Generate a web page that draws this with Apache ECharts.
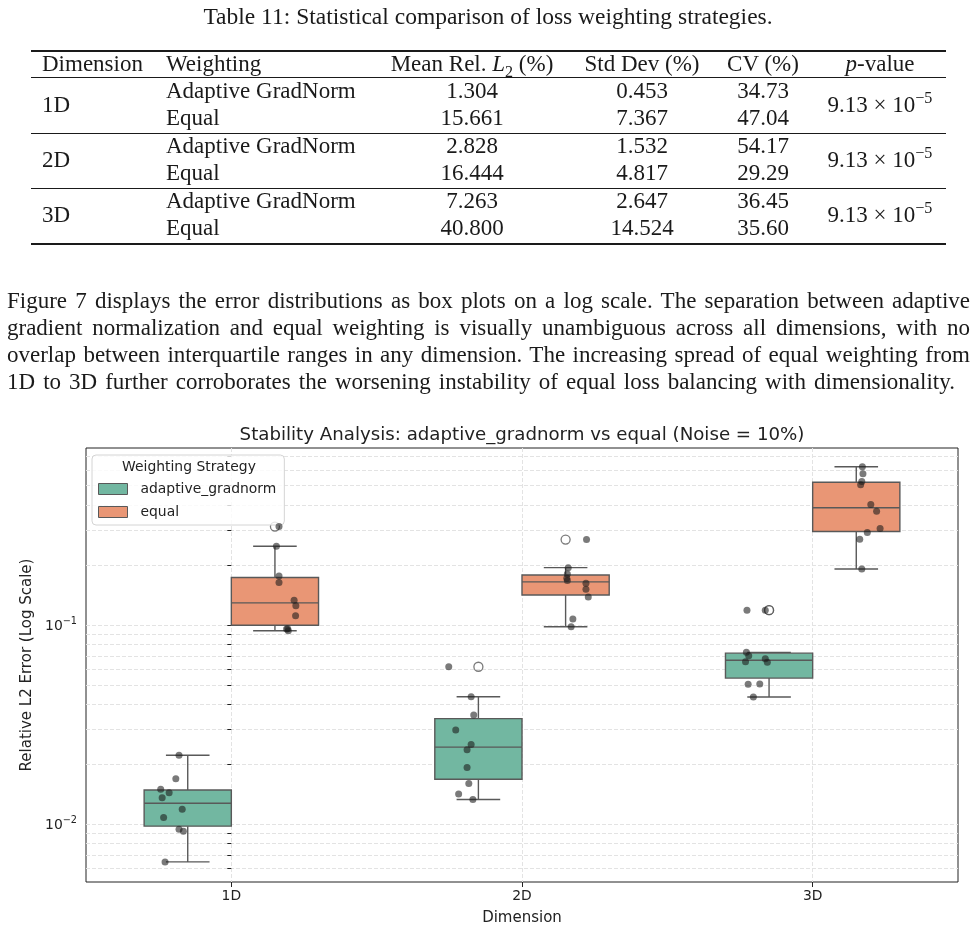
<!DOCTYPE html>
<html>
<head>
<meta charset="utf-8">
<script src="https://cdn.jsdelivr.net/npm/echarts@6/dist/echarts.min.js"></script>
<style>
  html, body { margin: 0; padding: 0; background: #fff; }
  #page { position: relative; width: 976px; height: 930px; overflow: hidden; font-family: 'Liberation Serif', serif; color: #1a1a1a; }
  #chart { position: absolute; left: 0; top: 0; width: 976px; height: 930px; }
  #doc { position: absolute; left: 0; top: 0; width: 976px; height: 420px; }
  .t { position: absolute; white-space: nowrap; font-size: 23px; line-height: 26px; height: 26px; }
  .c { width: 240px; text-align: center; }
  .rule { position: absolute; left: 31px; width: 915px; background: #1a1a1a; }
  .para { position: absolute; left: 7px; width: 963px; font-size: 23px; line-height: 27px; height: 27px; text-align: justify; text-align-last: justify; }
  sub, sup { font-size: 70%; line-height: 0; }
</style>
</head>
<body>
<div id="page">
  <div id="chart"></div>
  <div id="doc"></div>
</div>
<script>
// ---- table + paragraph ----
const tableHeader = ['Dimension', 'Weighting', 'Mean Rel. <i>L</i><sub>2</sub> (%)', 'Std Dev (%)', 'CV (%)', '<i>p</i>-value'];
const tableDims = ['1D', '2D', '3D'];
const tableWeighting = ['Adaptive GradNorm', 'Equal'];
const tableMean = [['1.304', '15.661'], ['2.828', '16.444'], ['7.263', '40.800']];
const tableStd = [['0.453', '7.367'], ['1.532', '4.817'], ['2.647', '14.524']];
const tableCV = [['34.73', '47.04'], ['54.17', '29.29'], ['36.45', '35.60']];
const tablePValue = ['9.13 × 10<sup>−5</sup>', '9.13 × 10<sup>−5</sup>', '9.13 × 10<sup>−5</sup>'];

const paragraphLines = [
  'Figure 7 displays the error distributions as box plots on a log scale. The separation between adaptive',
  'gradient normalization and equal weighting is visually unambiguous across all dimensions, with no',
  'overlap between interquartile ranges in any dimension. The increasing spread of equal weighting from',
  '1D to 3D further corroborates the worsening instability of equal loss balancing with dimensionality.'
];

(function buildDoc() {
  const doc = document.getElementById('doc');
  let html = '';
  // left-aligned text at (x, centre y)
  const left = (s, x, y) => `<div class="t" style="left:${x}px;top:${y - 13}px">${s}</div>`;
  const mid = (s, x, y) => `<div class="t c" style="left:${x - 120}px;top:${y - 13}px">${s}</div>`;
  const rule = (y, h) => `<div class="rule" style="top:${y}px;height:${h}px"></div>`;

  html += `<div class="t" style="left:0;width:976px;text-align:center;top:3px;font-size:23.5px">Table 11: Statistical comparison of loss weighting strategies.</div>`;
  html += rule(50, 1.6) + rule(77, 1) + rule(133, 1) + rule(188, 1) + rule(243, 1.6);

  const colMid = [472, 642, 763, 880];
  html += left(tableHeader[0], 42, 64) + left(tableHeader[1], 166, 64);
  for (let c = 2; c < 6; c++) html += mid(tableHeader[c], colMid[c - 2], 64);

  for (let g = 0; g < 3; g++) {
    const y0 = 91 + g * 55;
    html += left(tableDims[g], 42, y0 + 13.5);
    html += mid(tablePValue[g], colMid[3], y0 + 13.5);
    for (let r = 0; r < 2; r++) {
      const y = y0 + r * 27;
      html += left(tableWeighting[r], 166, y);
      html += mid(tableMean[g][r], colMid[0], y);
      html += mid(tableStd[g][r], colMid[1], y);
      html += mid(tableCV[g][r], colMid[2], y);
    }
  }

  paragraphLines.forEach((line, i) => {
    const last = i === paragraphLines.length - 1;
    html += `<div class="para" style="top:${300 + i * 27 - 13}px;${last ? 'width:948px;' : ''}">${line}</div>`;
  });
  doc.innerHTML = html;
})();

// ---- chart data ----
const dims = ['1D', '2D', '3D'];
const strategies = ['adaptive_gradnorm', 'equal'];

// relative L2 error of each run (10 runs per group)
const adaptive1D = [0.0222, 0.0169, 0.0150, 0.0144, 0.0136, 0.0119, 0.0108, 0.00944, 0.00922, 0.00647];
const adaptive2D = [0.0617, 0.0436, 0.0353, 0.0297, 0.02515, 0.02363, 0.01927, 0.01601, 0.0142, 0.0133];
const adaptive3D = [0.1186, 0.1186, 0.0729, 0.0701, 0.0677, 0.0654, 0.0650, 0.0505, 0.0504, 0.0435];
const equal1D = [0.3119, 0.2485, 0.1762, 0.1632, 0.1331, 0.1250, 0.1113, 0.0958, 0.0955, 0.0936];
const equal2D = [0.2683, 0.1940, 0.1804, 0.1717, 0.1670, 0.1620, 0.1511, 0.1382, 0.1072, 0.0980];
const equal3D = [0.6223, 0.5738, 0.5250, 0.5052, 0.4023, 0.3726, 0.3047, 0.2909, 0.2696, 0.1911];

// strip plot horizontal position of each run, in category widths from the dimension centre
const adaptive1DJitter = [-0.180, -0.191, -0.243, -0.214, -0.238, -0.169, -0.233, -0.180, -0.165, -0.228];
const adaptive2DJitter = [-0.252, -0.175, -0.166, -0.228, -0.175, -0.189, -0.189, -0.183, -0.218, -0.169];
const adaptive3DJitter = [-0.226, -0.163, -0.228, -0.220, -0.163, -0.231, -0.156, -0.182, -0.222, -0.204];
const equal1DJitter = [0.164, 0.155, 0.164, 0.164, 0.216, 0.222, 0.221, 0.194, 0.190, 0.196];
const equal2DJitter = [0.222, 0.159, 0.156, 0.154, 0.156, 0.220, 0.220, 0.228, 0.175, 0.169];
const equal3DJitter = [0.171, 0.173, 0.169, 0.165, 0.200, 0.220, 0.232, 0.188, 0.162, 0.169];

const majorTicks = [0.01, 0.1];
const minorTicks = [0.006, 0.007, 0.008, 0.009, 0.02, 0.03, 0.04, 0.05, 0.06, 0.07, 0.08, 0.09,
  0.2, 0.3, 0.4, 0.5, 0.6, 0.7];

// ---- styling ----
const FONT = 'DejaVu Sans';
const LINE = '#595959';
const GRID_LINE = { color: '#e3e3e3', type: [4, 2], width: 1 };
const BOX_HALF = 0.15;
const CAP_HALF = 0.075;

const groups = [
  { name: 'adaptive_gradnorm', color: '#72b7a1', shift: -BOX_HALF,
    runs: [adaptive1D, adaptive2D, adaptive3D], jitter: [adaptive1DJitter, adaptive2DJitter, adaptive3DJitter] },
  { name: 'equal', color: '#e99675', shift: BOX_HALF,
    runs: [equal1D, equal2D, equal3D], jitter: [equal1DJitter, equal2DJitter, equal3DJitter] }
];

// same rules as matplotlib: linear percentiles, whiskers at 1.5 IQR
function quantile(sorted, p) {
  const pos = (sorted.length - 1) * p;
  const lo = Math.floor(pos);
  const hi = Math.min(lo + 1, sorted.length - 1);
  return sorted[lo] + (pos - lo) * (sorted[hi] - sorted[lo]);
}
function boxStats(vals) {
  const s = vals.slice().sort((a, b) => a - b);
  const q1 = quantile(s, 0.25), med = quantile(s, 0.5), q3 = quantile(s, 0.75);
  const iqr = q3 - q1;
  const inside = s.filter(v => v >= q1 - 1.5 * iqr && v <= q3 + 1.5 * iqr);
  return {
    low: inside[0], q1, med, q3, high: inside[inside.length - 1],
    fliers: s.filter(v => v < q1 - 1.5 * iqr || v > q3 + 1.5 * iqr)
  };
}

function renderBox(params, api) {
  const x = api.value(0);
  const low = api.value(1), q1 = api.value(2), med = api.value(3), q3 = api.value(4), high = api.value(5);
  const tl = api.coord([x - BOX_HALF, q3]);
  const br = api.coord([x + BOX_HALF, q1]);
  const pt = (dx, v) => api.coord([x + dx, v]);
  const ls = { stroke: LINE, lineWidth: 1.4, fill: null };
  const seg = (a, b) => ({ type: 'line', shape: { x1: a[0], y1: a[1], x2: b[0], y2: b[1] }, style: ls });
  return {
    type: 'group',
    children: [
      seg(pt(0, low), pt(0, q1)),
      seg(pt(0, q3), pt(0, high)),
      seg(pt(-CAP_HALF, low), pt(CAP_HALF, low)),
      seg(pt(-CAP_HALF, high), pt(CAP_HALF, high)),
      { type: 'rect', shape: { x: tl[0], y: tl[1], width: br[0] - tl[0], height: br[1] - tl[1] },
        style: { fill: api.visual('color'), stroke: LINE, lineWidth: 1.4 } },
      seg(pt(-BOX_HALF, med), pt(BOX_HALF, med))
    ]
  };
}

const series = [];
const fliers = [];
const strip = [];
groups.forEach(g => {
  const boxData = [];
  g.runs.forEach((vals, d) => {
    const st = boxStats(vals);
    boxData.push([d + g.shift, st.low, st.q1, st.med, st.q3, st.high]);
    st.fliers.forEach(v => fliers.push([d + g.shift, v]));
    vals.forEach((v, k) => strip.push([d + g.jitter[d][k], v]));
  });
  series.push({
    name: g.name, type: 'custom', renderItem: renderBox,
    itemStyle: { color: g.color },
    encode: { x: 0, y: [1, 2, 3, 4, 5] },
    data: boxData, z: 2
  });
});
series.push({
  name: 'outliers', type: 'scatter', data: fliers, symbol: 'circle', symbolSize: 9,
  itemStyle: { color: 'rgba(255,255,255,0)', borderColor: LINE, borderWidth: 1.3 }, z: 3
});
series.push({
  name: 'runs', type: 'scatter', data: strip, symbol: 'circle', symbolSize: 7,
  itemStyle: { color: '#1a1a1a', opacity: 0.58 }, z: 4
});

const chart = echarts.init(document.getElementById('chart'), null, { renderer: 'canvas' });
chart.setOption({
  animation: false,
  backgroundColor: '#fff',
  grid: { left: 86, right: 18, top: 448, bottom: 48, show: true, borderColor: '#222', borderWidth: 1,
    backgroundColor: 'transparent', containLabel: false, outerBoundsMode: 'none' },
  graphic: [
    { type: 'text', x: 522, y: 435, z: 100,
      style: { text: 'Stability Analysis: adaptive_gradnorm vs equal (Noise = 10%)', align: 'center',
        verticalAlign: 'middle', fontFamily: FONT, fontSize: 18.2, fill: '#222' } },
    { type: 'text', x: 189, y: 467, z: 100,
      style: { text: 'Weighting Strategy', align: 'center', verticalAlign: 'middle',
        fontFamily: FONT, fontSize: 13.9, fill: '#222' } }
  ],
  legend: {
    data: strategies, orient: 'vertical', left: 92, top: 455, selectedMode: false,
    padding: [26, 8, 5, 6], itemGap: 7, itemWidth: 29, itemHeight: 11, icon: 'rect',
    itemStyle: { borderColor: LINE, borderWidth: 1 },
    textStyle: { fontFamily: FONT, fontSize: 13.9, color: '#222', lineHeight: 16, padding: [0, 0, 0, 8] },
    backgroundColor: 'rgba(255,255,255,0.8)', borderColor: '#d4d4d4', borderWidth: 1, borderRadius: 4
  },
  xAxis: {
    type: 'value', min: -0.5, max: 2.5,
    name: 'Dimension', nameLocation: 'middle', nameGap: 29,
    nameTextStyle: { fontFamily: FONT, fontSize: 15, color: '#222' },
    axisLine: { show: false },
    axisTick: { customValues: [0, 1, 2], length: 5, lineStyle: { color: '#222' } },
    axisLabel: { customValues: [0, 1, 2], formatter: v => dims[Math.round(v)], margin: 7,
      fontFamily: FONT, fontSize: 13.9, color: '#222' },
    splitLine: { show: true, lineStyle: GRID_LINE }
  },
  yAxis: {
    type: 'log', logBase: 10, min: 0.00513, max: 0.773,
    name: 'Relative L2 Error (Log Scale)', nameLocation: 'middle', nameGap: 50, nameRotate: 90,
    nameTextStyle: { fontFamily: FONT, fontSize: 15, color: '#222' },
    axisLine: { show: false },
    axisTick: { customValues: majorTicks.concat(minorTicks), length: 4, lineStyle: { color: '#222' } },
    axisLabel: {
      customValues: majorTicks, margin: 9, color: '#222',
      formatter: v => '{b|10}{sup|\u2212' + Math.round(-Math.log10(v)) + '}',
      rich: {
        b: { fontFamily: FONT, fontSize: 13.9, color: '#222', verticalAlign: 'bottom' },
        sup: { fontFamily: FONT, fontSize: 9.7, color: '#222', verticalAlign: 'bottom', padding: [0, 0, 7, 0] }
      }
    },
    splitLine: { show: true, lineStyle: GRID_LINE }
  },
  series
});
</script>
</body>
</html>
